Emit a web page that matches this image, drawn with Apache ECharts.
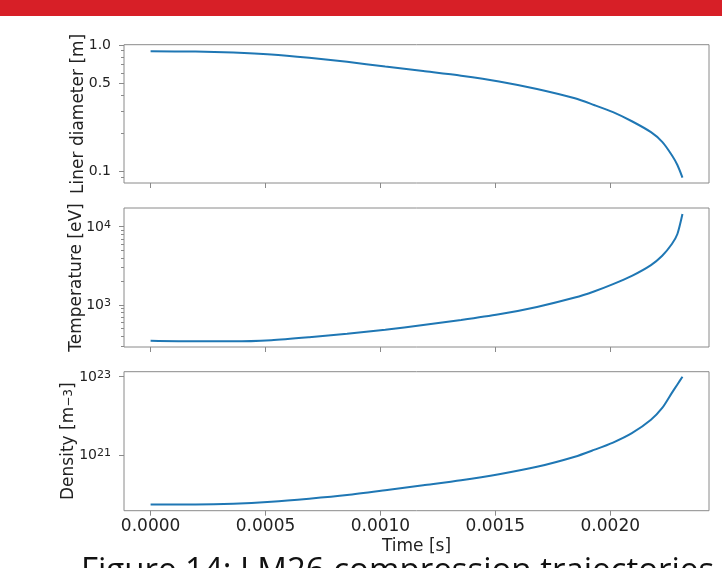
<!DOCTYPE html>
<html><head><meta charset="utf-8">
<script src="https://cdn.jsdelivr.net/npm/echarts@6/dist/echarts.min.js"></script>
<style>html,body{margin:0;padding:0;background:#fff}#c{width:722px;height:568px}</style>
</head><body><div id="c"></div>
<script>
// ---- data ----
const time = [0, 0.000195, 0.00036, 0.000525, 0.00069, 0.000855, 0.001021, 0.001186, 0.001351, 0.001516, 0.001681, 0.001846, 0.001929, 0.002012, 0.002094, 0.002177, 0.002226, 0.002268, 0.002292, 0.002314];
const linerDiameter = [0.890, 0.885, 0.869, 0.839, 0.790, 0.735, 0.675, 0.621, 0.571, 0.515, 0.449, 0.379, 0.336, 0.295, 0.250, 0.205, 0.172, 0.135, 0.113, 0.090];
const temperature = [350, 344, 344, 356, 388, 430, 483, 555, 643, 760, 945, 1245, 1490, 1850, 2360, 3240, 4260, 6010, 8070, 14500];
const density = [5.47e19, 5.47e19, 5.7e19, 6.4e19, 7.66e19, 9.5e19, 1.26e20, 1.69e20, 2.27e20, 3.24e20, 5.0e20, 9.06e20, 1.35e21, 2.08e21, 3.61e21, 7.96e21, 1.59e22, 3.87e22, 6.35e22, 1.0e23];

const timeTicks = [0, 0.0005, 0.001, 0.0015, 0.002];
const diameterTicks = [0.1, 0.5, 1.0];
const diameterMinorTicks = [0.09, 0.2, 0.3, 0.4, 0.6, 0.7, 0.8, 0.9];
const temperatureTicks = [1e3, 1e4];
const temperatureMinorTicks = [300, 400, 500, 600, 700, 800, 900, 2000, 3000, 4000, 5000, 6000, 7000, 8000, 9000];
const densityTicks = [1e21, 1e23];

const xLabel = 'Time [s]';
const yLabels = ['Liner diameter [m]', 'Temperature [eV]', 'Density [m'];
const caption = 'Figure 14: LM26 compression trajectories';

// ---- styling ----
const FONT = 'DejaVu Sans';
const TXT = '#222';
const FRAME = '#8a8a8a';
const LINE = '#1f77b4';
const FS = 17;   // axis names and x tick labels
const YFS = 14;  // y tick labels

const gridPos = [
  {top: 44.7, height: 138.3},
  {top: 208, height: 139},
  {top: 371.7, height: 139}
];
const grids = gridPos.map(g => ({
  left: 124, width: 585, top: g.top, height: g.height,
  show: true, borderColor: FRAME, borderWidth: 1, backgroundColor: 'transparent',
  containLabel: false, outerBoundsMode: 'none'
}));

const xMin = -0.0001157, xMax = 0.0024295;
const xAxes = [0, 1, 2].map(i => ({
  type: 'value', gridIndex: i, min: xMin, max: xMax, position: 'bottom',
  axisLine: {show: false, onZero: false},
  splitLine: {show: false},
  axisTick: {show: true, length: 5, lineStyle: {color: FRAME}, customValues: timeTicks},
  axisLabel: {show: i === 2, customValues: timeTicks, margin: 7, color: TXT, fontFamily: FONT, fontSize: FS,
    formatter: v => v.toFixed(4)},
  name: i === 2 ? xLabel : '', nameLocation: 'middle', nameGap: 27, nameMoveOverlap: false,
  nameTextStyle: {color: TXT, fontFamily: FONT, fontSize: FS}
}));

const powFmt = v => '{b|10}{s|' + Math.round(Math.log10(v)) + '}';
const powRich = {
  b: {fontSize: YFS, fontFamily: FONT, color: TXT, verticalAlign: 'bottom'},
  s: {fontSize: 11, fontFamily: FONT, color: TXT, verticalAlign: 'bottom', padding: [0, 0, 4, 0]}
};
const nameStyle = {color: TXT, fontFamily: FONT, fontSize: FS,
  rich: {n: {fontSize: FS, fontFamily: FONT, color: TXT}, s: {fontSize: 12, fontFamily: FONT, color: TXT}}};

function yMain(i, min, max, ticks, fmt, rich, name, gap) {
  return {
    type: 'log', logBase: 10, gridIndex: i, min: min, max: max, position: 'left',
    axisLine: {show: false, onZero: false}, splitLine: {show: false}, minorTick: {show: false},
    axisTick: {show: true, length: 5, lineStyle: {color: FRAME}, customValues: ticks},
    axisLabel: {customValues: ticks, margin: 13, color: TXT, fontFamily: FONT, fontSize: YFS, formatter: fmt, rich: rich},
    name: name, nameLocation: 'middle', nameGap: gap, nameMoveOverlap: false, nameTextStyle: nameStyle
  };
}
function yMinor(i, min, max, ticks) {
  return {
    type: 'log', logBase: 10, gridIndex: i, min: min, max: max, position: 'left',
    axisLine: {show: false, onZero: false}, splitLine: {show: false},
    axisTick: {show: true, length: 3, lineStyle: {color: FRAME}, customValues: ticks},
    axisLabel: {show: false}
  };
}

const yAxes = [
  yMain(0, 0.0815, 1.003, diameterTicks, v => v.toFixed(1), undefined, yLabels[0], 37),
  yMain(1, 291, 17340, temperatureTicks, powFmt, powRich, yLabels[1], 39),
  yMain(2, 3.78e19, 1.343e23, densityTicks, powFmt, powRich, '{n|' + yLabels[2] + '}{s|\u22123}{n|]}', 47),
  yMinor(0, 0.0815, 1.003, diameterMinorTicks),
  yMinor(1, 291, 17340, temperatureMinorTicks)
];

const mk = (arr, i) => ({
  type: 'line', xAxisIndex: i, yAxisIndex: i,
  data: time.map((t, k) => [t, arr[k]]),
  showSymbol: false, smooth: 0.25,
  lineStyle: {color: LINE, width: 2}, itemStyle: {color: LINE},
  animation: false, silent: true
});

const chart = echarts.init(document.getElementById('c'), null, {renderer: 'canvas'});
chart.setOption({
  animation: false,
  backgroundColor: '#fff',
  grid: grids,
  xAxis: xAxes,
  yAxis: yAxes,
  series: [mk(linerDiameter, 0), mk(temperature, 1), mk(density, 2)],
  graphic: [
    {type: 'rect', left: 0, top: 0, shape: {x: 0, y: 0, width: 722, height: 16}, style: {fill: '#d71f27'}, silent: true},
    {type: 'text', left: 81, top: 555, style: {text: caption, font: '33px "Open Sans"', fill: '#111'}, silent: true}
  ]
});
</script>
</body></html>
